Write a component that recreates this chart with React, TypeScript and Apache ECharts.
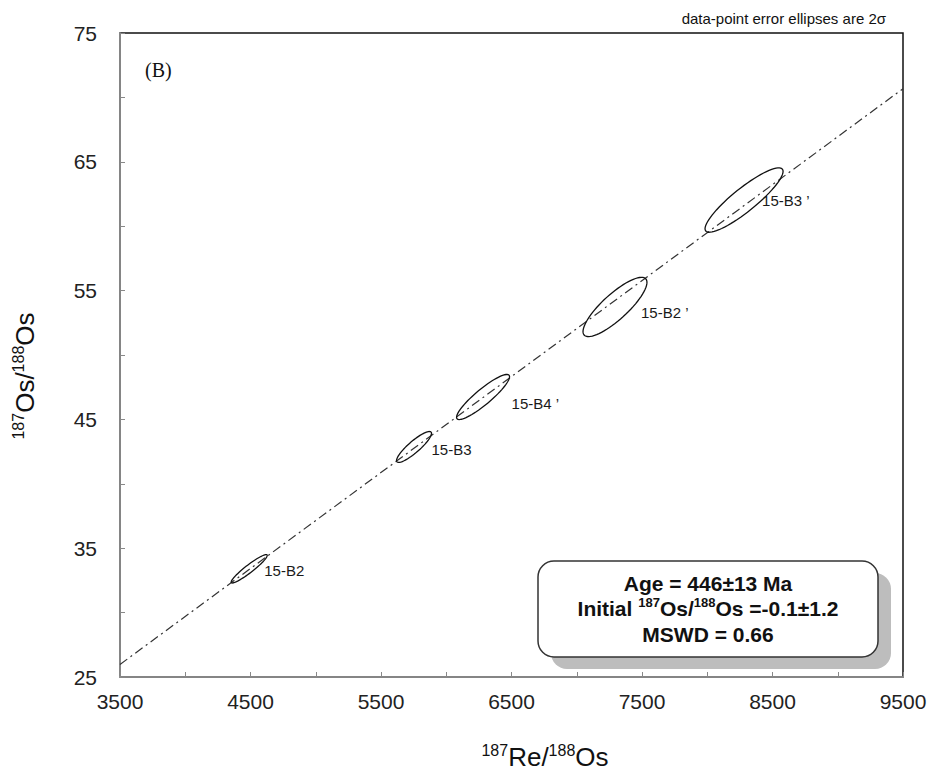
import React, { useEffect, useRef } from "react";
import * as echarts from "echarts";

// ---- data ----
const sampleNames = ["15-B2", "15-B3", "15-B4 \u2019", "15-B2 \u2019", "15-B3 \u2019"];
const reOs = [4490, 5753, 6282, 7293, 8282];          // 187Re/188Os
const osOs = [33.4, 42.86, 46.74, 53.73, 62.03];      // 187Os/188Os
const reOsErr2s = [138, 134, 203, 245, 299];          // 2 sigma x
const osOsErr2s = [1.1, 1.2, 1.75, 2.3, 2.5];         // 2 sigma y
const errCorr = [0.94, 0.88, 0.9, 0.83, 0.89];        // error correlation
const isoSlope = 0.00745;
const isoIntercept = -0.1;
const xRange = [3500, 9500];
const yRange = [25, 75];

// label nudges (style only)
const labelDx = [-3, 0, 2, -6, -21];
const labelDy = [2, 3, 7, 6, 0];

const FONT = "'Liberation Sans', Arial, sans-serif";

export default function App() {
  const ref = useRef<HTMLDivElement>(null);
  useEffect(() => {
    document.body.style.margin = "0";
    const chart = echarts.init(ref.current!, undefined, { renderer: "svg" });
    const ellipseData = reOs.map((x, i) => [x, osOs[i], reOsErr2s[i], osOsErr2s[i], errCorr[i], i]);
    const option: any = {
      animation: false,
      backgroundColor: "#fff",
      grid: { left: 120, right: 28, top: 33, bottom: 98, show: true, borderColor: "#111", borderWidth: 1.5 },
      xAxis: {
        type: "value",
        min: xRange[0],
        max: xRange[1],
        interval: 500,
        axisLine: { show: true, lineStyle: { color: "#999", width: 1.5 } },
        axisTick: { show: true, inside: true, length: 5, lineStyle: { color: "#888" } },
        splitLine: { show: false },
        axisLabel: {
          margin: 14,
          color: "#222",
          fontSize: 21,
          fontFamily: FONT,
          formatter: (v: number) => ((v - xRange[0]) % 1000 === 0 ? String(v) : ""),
        },
      },
      yAxis: {
        type: "value",
        min: yRange[0],
        max: yRange[1],
        interval: 5,
        axisLine: { show: true, lineStyle: { color: "#999", width: 1.5 } },
        axisTick: { show: true, inside: true, length: 5, lineStyle: { color: "#888" } },
        splitLine: { show: false },
        axisLabel: {
          margin: 23,
          color: "#222",
          fontSize: 21,
          fontFamily: FONT,
          formatter: (v: number) => ((v - yRange[0]) % 10 === 0 ? String(v) : ""),
        },
      },
      series: [
        {
          type: "line",
          data: xRange.map((x) => [x, isoSlope * x + isoIntercept]),
          symbol: "none",
          lineStyle: { color: "#333", width: 1.2, type: [9, 4, 2, 4] },
          z: 2,
        },
        {
          type: "custom",
          data: ellipseData,
          z: 3,
          renderItem: (params: any, api: any) => {
            const cx = api.value(0), cy = api.value(1), sx = api.value(2), sy = api.value(3), r = api.value(4);
            const idx = api.value(5);
            const pts: number[][] = [];
            const n = 72;
            for (let k = 0; k < n; k++) {
              const t = (k / n) * Math.PI * 2;
              const x = cx + sx * Math.cos(t);
              const y = cy + sy * (r * Math.cos(t) + Math.sqrt(1 - r * r) * Math.sin(t));
              pts.push(api.coord([x, y]));
            }
            const right = api.coord([cx + sx, cy]);
            const c = api.coord([cx, cy]);
            return {
              type: "group",
              children: [
                { type: "polygon", shape: { points: pts }, style: { fill: "none", stroke: "#111", lineWidth: 1.3 } },
                {
                  type: "text",
                  x: right[0] + labelDx[idx],
                  y: c[1] + labelDy[idx],
                  style: {
                    text: sampleNames[idx],
                    fontSize: 15,
                    fontFamily: FONT,
                    fill: "#1a1a1a",
                    align: "left",
                    verticalAlign: "middle",
                  },
                },
              ],
            };
          },
        },
      ],
      graphic: [
        {
          type: "text",
          x: 145,
          y: 70,
          style: { text: "(B)", fontSize: 20, fontFamily: "'Liberation Serif', 'Times New Roman', serif", fill: "#111", verticalAlign: "middle" },
        },
        {
          type: "text",
          x: 886,
          y: 18,
          style: { text: "data-point error ellipses are 2\u03c3", fontSize: 15, fontFamily: FONT, fill: "#111", align: "right", verticalAlign: "middle" },
        },
        {
          type: "text",
          x: 545,
          y: 757,
          style: {
            text: "{s|187}{m|Re/}{s|188}{m|Os}",
            align: "center",
            verticalAlign: "middle",
            rich: {
              m: { fontSize: 26, fontFamily: FONT, fill: "#111", lineHeight: 30 },
              s: { fontSize: 16, fontFamily: FONT, fill: "#111", verticalAlign: "top", lineHeight: 18 },
            },
          },
        },
        {
          type: "text",
          x: 25,
          y: 376,
          rotation: Math.PI / 2,
          style: {
            text: "{s|187}{m|Os/}{s|188}{m|Os}",
            align: "center",
            verticalAlign: "middle",
            rich: {
              m: { fontSize: 26, fontFamily: FONT, fill: "#111", lineHeight: 30 },
              s: { fontSize: 16, fontFamily: FONT, fill: "#111", verticalAlign: "top", lineHeight: 18 },
            },
          },
        },
        {
          type: "rect",
          shape: { x: 551, y: 573, width: 340, height: 96, r: 16 },
          style: { fill: "#bdbdbd" },
          z: 10,
        },
        {
          type: "rect",
          shape: { x: 538, y: 561, width: 340, height: 96, r: 16 },
          style: { fill: "#fff", stroke: "#333", lineWidth: 1.5 },
          z: 11,
        },
        {
          type: "text",
          x: 708,
          y: 583,
          z: 12,
          style: { text: "Age = 446\u00b113 Ma", fontSize: 21, fontWeight: "bold", fontFamily: FONT, fill: "#111", align: "center", verticalAlign: "middle" },
        },
        {
          type: "text",
          x: 708,
          y: 608,
          z: 12,
          style: {
            text: "{b|Initial }{s|187}{b|Os/}{s|188}{b|Os =-0.1\u00b11.2}",
            align: "center",
            verticalAlign: "middle",
            rich: {
              b: { fontSize: 21, fontWeight: "bold", fontFamily: FONT, fill: "#111", lineHeight: 24 },
              s: { fontSize: 13, fontWeight: "bold", fontFamily: FONT, fill: "#111", verticalAlign: "top", lineHeight: 15 },
            },
          },
        },
        {
          type: "text",
          x: 708,
          y: 634,
          z: 12,
          style: { text: "MSWD = 0.66", fontSize: 21, fontWeight: "bold", fontFamily: FONT, fill: "#111", align: "center", verticalAlign: "middle" },
        },
      ],
    };
    chart.setOption(option);
    return () => chart.dispose();
  }, []);
  return <div ref={ref} style={{ width: 931, height: 775 }} />;
}
